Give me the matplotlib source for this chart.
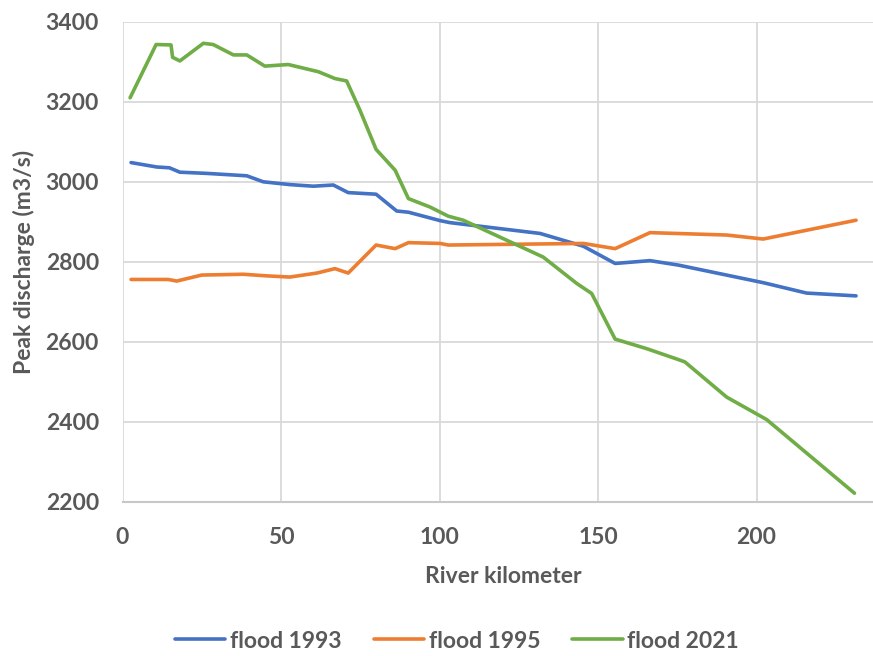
import matplotlib
matplotlib.use("Agg")
import matplotlib.pyplot as plt

# Data (km, m3/s)
km_1993 = [2.7, 10.8, 14.8, 18.1, 26.6, 39.2, 44.4, 52.8, 60.2, 66.5, 71.2, 80.0,
           86.5, 90.2, 100.2, 103.3, 131.7, 145.4, 155.4, 166.4, 175.3, 202.1, 215.8, 231.4]
q_1993 = [3048, 3037, 3035, 3024, 3021, 3015, 3000, 2993, 2989, 2992, 2973, 2969,
          2927, 2924, 2903, 2898, 2871, 2839, 2796, 2803, 2792, 2748, 2722, 2715]

km_1995 = [2.7, 14.4, 17.1, 25.0, 38.1, 45.5, 52.8, 61.3, 67.0, 71.2, 80.0, 86.0,
           90.2, 100.2, 102.8, 145.4, 155.4, 166.4, 190.6, 202.1, 231.4]
q_1995 = [2756, 2756, 2752, 2767, 2769, 2765, 2762, 2772, 2783, 2772, 2842, 2833,
          2848, 2846, 2842, 2846, 2833, 2873, 2867, 2857, 2904]

km_2021 = [2.4, 10.6, 15.3, 15.8, 18.1, 25.5, 28.6, 35.0, 39.2, 44.9, 52.3, 61.8,
           67.0, 70.7, 74.9, 80.0, 86.0, 90.2, 97.0, 102.8, 107.5, 132.7, 143.3,
           148.0, 155.4, 165.4, 175.3, 177.4, 190.6, 203.2, 230.9]
q_2021 = [3210, 3343, 3342, 3311, 3302, 3346, 3343, 3317, 3317, 3289, 3293, 3275,
          3258, 3252, 3179, 3081, 3029, 2958, 2937, 2914, 2904, 2812, 2746,
          2721, 2607, 2583, 2556, 2550, 2462, 2406, 2222]

x_ticks = [0, 50, 100, 150, 200]
y_ticks = [2200, 2400, 2600, 2800, 3000, 3200, 3400]

plt.rcParams['font.family'] = ['Lato', 'DejaVu Sans']
TXT = '#595959'
GRID = '#d9d9d9'
FS = 16.5

fig = plt.figure(figsize=(8.73, 6.56), dpi=100)
ax = fig.add_axes([122.5 / 873, 1 - 502 / 656, 1 - 122.5 / 873, (502 - 21.7) / 656])

ax.plot(km_1993, q_1993, color='#4472C4', lw=2.6, label='flood 1993', solid_capstyle='round')
ax.plot(km_1995, q_1995, color='#ED7D31', lw=2.6, label='flood 1995', solid_capstyle='round')
ax.plot(km_2021, q_2021, color='#70AD47', lw=2.6, label='flood 2021', solid_capstyle='round')

ax.set_xlim(0, (873 - 122.5) / 3.17)
ax.set_ylim(2200, 3400)
ax.set_xticks(x_ticks)
ax.set_yticks(y_ticks)
ax.grid(True, color=GRID, lw=1.3)
ax.set_axisbelow(True)
for s in ['top', 'right', 'left']:
    ax.spines[s].set_visible(False)
ax.spines['bottom'].set_color('#c8c8c8')
ax.spines['bottom'].set_linewidth(1.5)
ax.tick_params(length=0, labelsize=FS, labelcolor=TXT)
ax.tick_params(axis='x', pad=18)
ax.tick_params(axis='y', pad=17)
for lab in ax.get_xticklabels() + ax.get_yticklabels():
    lab.set_fontweight('bold')

ax.set_xlabel('River kilometer', fontsize=FS, fontweight='bold', color=TXT)
ax.xaxis.set_label_coords(0.507, -0.133)
ax.set_ylabel('Peak discharge (m3/s)', fontsize=FS, fontweight='bold', color=TXT)
ax.yaxis.set_label_coords(-0.117, 0.5)

fig.legend(loc='center', bbox_to_anchor=(457 / 873, 1 - 641 / 656), ncol=3,
           frameon=False, handlelength=2.2, columnspacing=1.4,
           handletextpad=0.2, labelcolor=TXT, prop={'weight': 'bold', 'size': FS})

fig.savefig('out.png', dpi=100)
